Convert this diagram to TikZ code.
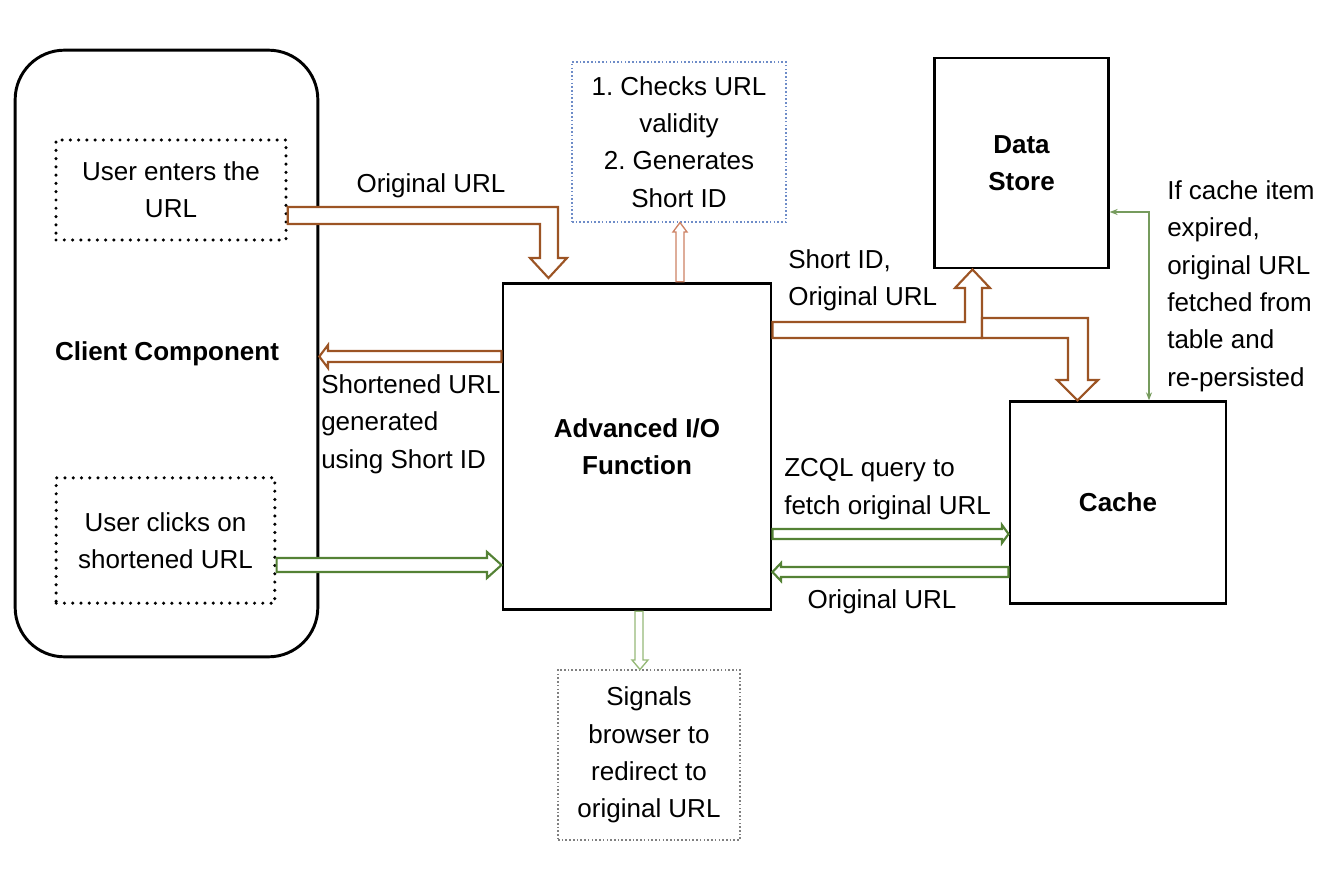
\documentclass[tikz,border=0pt]{standalone}
\usepackage{fontspec}
\setmainfont{Liberation Sans}
\frenchspacing
\usetikzlibrary{positioning,calc,arrows.meta}
\definecolor{urlbrown}{RGB}{156,84,36}
\definecolor{lightbrown}{RGB}{205,130,100}
\definecolor{urlgreen}{RGB}{84,130,53}
\definecolor{lightgreen}{RGB}{150,185,120}
\definecolor{dotblue}{RGB}{110,140,200}
\tikzset{txt/.style={font=\fontsize{19.5}{28}\selectfont, align=center, inner sep=0pt}}
\tikzset{bold/.style={txt, font=\fontsize{19.5}{28}\selectfont\bfseries}}
\tikzset{sbox/.style={draw, line width=2.2pt}}
\tikzset{dbox/.style={draw, line width=2.6pt, line cap=round, dash pattern=on 0pt off 6.2pt}}
\tikzset{fbox/.style={draw=#1, line width=0.8pt, dash pattern=on 1.2pt off 1.6pt}}
\tikzset{blk/.style={draw=#1, line width=1.6pt, line join=miter, fill=white}}
\tikzset{thinblk/.style={draw=#1, line width=1pt, fill=white}}

\begin{document}
\begin{tikzpicture}[x=0.75pt, y=-0.75pt]
	\useasboundingbox (0,0) rectangle (1332,877);
	\node[sbox, rounded corners=37pt, minimum width=227pt, minimum height=455pt] (client) at (166.5,353.5) {};
	\node[bold] (clientlbl) at (167,354) {Client Component};
	\node[dbox, txt, minimum width=172.5pt, minimum height=75pt] (enter) at (171,190) {User enters the\\URL};
	\node[dbox, txt, minimum width=164pt, minimum height=94pt] (clicks) at (165.5,540.5) {User clicks on\\shortened URL};
	\node[sbox, bold, minimum width=201pt, minimum height=245pt] (aio) at (637,446.5) {Advanced I/O\\Function};
	\node[fbox=dotblue, txt, minimum width=160.5pt, minimum height=120pt] (checks) at (679,142) {1. Checks URL\\validity\\2. Generates\\Short ID};
	\node[fbox=gray, txt, minimum width=136.5pt, minimum height=127.5pt] (signals) at (649,755) {Signals\\browser to\\redirect to\\original URL};
	\node[sbox, bold, minimum width=130pt, minimum height=157.5pt] (store) at (1021.5,163) {Data\\Store};
	\node[sbox, bold, minimum width=162pt, minimum height=151pt] (cache) at (1118,502.5) {Cache};
	\node[txt, align=left, anchor=west] (expired) at (1167,286) {If cache item\\expired,\\original URL\\fetched from\\table and\\re-persisted};

	\node[txt] (origlbl) at (431,186) {Original URL};
	\node[txt, align=left, anchor=west] (shortlbl) at (321,424) {Shortened URL\\generated\\using Short ID};
	\node[txt, align=left, anchor=west] (idlbl) at (788,280) {Short ID,\\Original URL};
	\node[txt, align=left, anchor=west] (zcqllbl) at (784,489) {ZCQL query to\\fetch original URL};
	\node[txt] (backlbl) at (882,602) {Original URL};

	\draw[blk=urlbrown] (enter.east |- 0,207) -- (558,207) -- (558,258) -- (567,258)
		-- (548.5,278) -- (530,258) -- (540,258) -- (540,224) -- (enter.east |- 0,224) -- cycle;
	\draw[blk=urlbrown] (aio.west |- 0,351) -- (328,351) -- (328,345)
		-- (client.east |- 0,356.5) -- (328,368) -- (328,362) -- (aio.west |- 0,362) -- cycle;
	\draw[blk=urlgreen] (clicks.east |- 0,558) -- (487,558) -- (487,552)
		-- (aio.west |- 0,565) -- (487,578) -- (487,572) -- (clicks.east |- 0,572) -- cycle;
	\draw[thinblk=lightbrown] (aio.north -| 676,0) -- (676,232) -- (673,232)
		-- (checks.south -| 680,0) -- (687,232) -- (684,232) -- (aio.north -| 684,0) -- cycle;
	\draw[blk=urlbrown] (aio.east |- 0,322) -- (965,322) -- (965,288) -- (955,288)
		-- (store.south -| 972.5,0) -- (990,288) -- (982,288) -- (982,338) -- (aio.east |- 0,338) -- cycle;
	\draw[blk=urlbrown] (982,318) -- (1088,318) -- (1088,380) -- (1098,380)
		-- (cache.north -| 1077.5,0) -- (1057,380) -- (1068,380) -- (1068,338) -- (982,338) -- cycle;
	\draw[urlbrown, line width=1.6pt] (982,318) -- (982,338);
	\draw[blk=urlgreen] (aio.east |- 0,529) -- (1002,529) -- (1002,525)
		-- (cache.west |- 0,534) -- (1002,543) -- (1002,539) -- (aio.east |- 0,539) -- cycle;
	\draw[blk=urlgreen] (cache.west |- 0,567) -- (781,567) -- (781,563)
		-- (aio.east |- 0,572) -- (781,581) -- (781,577) -- (cache.west |- 0,577) -- cycle;
	\draw[thinblk=lightgreen] (aio.south -| 635,0) -- (635,660) -- (632,660)
		-- (signals.north -| 640,0) -- (648,660) -- (643,660) -- (aio.south -| 643,0) -- cycle;
	\draw[urlgreen!80, line width=1.2pt, {Stealth[length=6pt]}-{Stealth[length=6pt]}]
		(store.east |- 0,212) -| (cache.north -| 1149,0);
\end{tikzpicture}
\end{document}
